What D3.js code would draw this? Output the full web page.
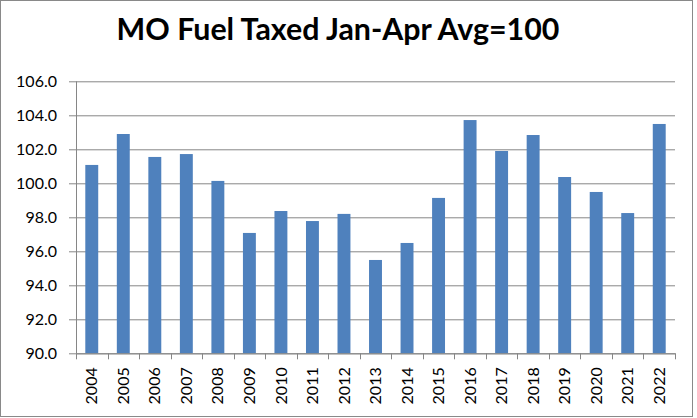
<!DOCTYPE html>
<html><head><meta charset="utf-8">
<script src="https://cdn.jsdelivr.net/npm/d3@7"></script>
<style>body{margin:0;background:#fff}svg{display:block}</style>
</head><body>
<script>
const years = ["2004","2005","2006","2007","2008","2009","2010","2011","2012","2013","2014","2015","2016","2017","2018","2019","2020","2021","2022"];
const values = [101.08,102.9,101.55,101.72,100.14,97.08,98.37,97.78,98.2,95.49,96.49,99.14,103.72,101.9,102.84,100.37,99.49,98.25,103.49];
const yTicks = [90,92,94,96,98,100,102,104,106];
const title = "MO Fuel Taxed Jan-Apr Avg=100";

const W = 697, H = 418;
const m = {left:76, right:675, top:81.3, bottom:353.3};
const svg = d3.select("body").append("svg").attr("width",W).attr("height",H);
svg.append("rect").attr("x",0.5).attr("y",0.5).attr("width",692).attr("height",416)
  .attr("fill","#fff").attr("stroke","#898989").attr("stroke-width",1);

const x = d3.scaleBand().domain(years).range([m.left,m.right]).paddingInner(0.59).paddingOuter(0.295);
const xb = d3.scaleBand().domain(years).range([m.left,m.right]);
const y = d3.scaleLinear().domain([90,106]).range([m.bottom,m.top]);

// gridlines + y axis
const ya = svg.append("g").attr("transform",`translate(${m.left},0)`)
  .call(d3.axisLeft(y).tickValues(yTicks).tickFormat(d3.format(".1f")).tickSize(7).tickPadding(12));
ya.selectAll(".tick line").attr("stroke","#868686").attr("x2", m.right-m.left).attr("x1",-7);
ya.select(".domain").attr("stroke","#868686").attr("d",`M0.5,${m.top}V${m.bottom}`);
ya.selectAll(".tick text").attr("font-family","Lato, 'Open Sans', sans-serif").attr("font-size",16).attr("fill","#000");

// bars
svg.append("g").selectAll("rect").data(years).join("rect")
  .attr("x", (d)=>x(d)).attr("width", x.bandwidth())
  .attr("y", (d,i)=>y(values[i])).attr("height",(d,i)=>y(90)-y(values[i]))
  .attr("fill","#4F81BD");

// x axis
const xa = svg.append("g").attr("transform",`translate(0,${m.bottom})`)
  .call(d3.axisBottom(xb).tickSize(0).tickSizeOuter(0));
xa.select(".domain").attr("stroke","#868686");
xa.selectAll(".tick text").attr("font-family","Lato, 'Open Sans', sans-serif").attr("font-size",16).attr("fill","#000")
  .attr("transform","rotate(-90)").attr("text-anchor","end").attr("x",-14).attr("y",0).attr("dy","0.35em");
// boundary ticks
const bounds = years.map(d=>xb(d)).concat([m.right]);
svg.append("g").selectAll("line").data(bounds).join("line")
  .attr("x1",d=>Math.round(d)+0.5).attr("x2",d=>Math.round(d)+0.5)
  .attr("y1",m.bottom).attr("y2",m.bottom+6).attr("stroke","#868686");

// title
const t = svg.append("text").attr("x",338).attr("y",39.5).attr("text-anchor","middle")
  .attr("font-family","Lato, 'Open Sans', sans-serif").attr("font-weight","bold").attr("font-size",22).text(title);
const w = t.node().getComputedTextLength();
t.attr("font-size", 22*443/w);
</script>
</body></html>
